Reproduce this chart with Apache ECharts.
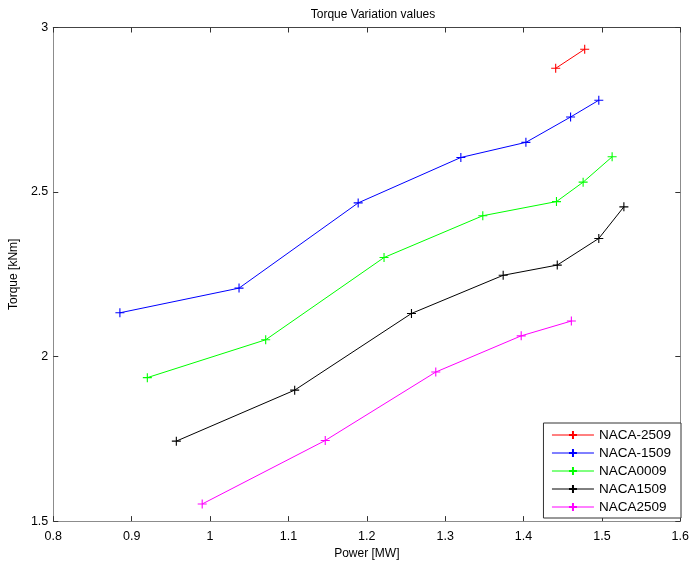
<!DOCTYPE html>
<html>
<head>
<meta charset="utf-8">
<script src="https://cdn.jsdelivr.net/npm/echarts@6/dist/echarts.min.js"></script>
<style>
  html, body { margin: 0; padding: 0; background: #fff; }
  #chart { width: 692px; height: 565px; }
</style>
</head>
<body>
<div id="chart"></div>
<script>
  // series names and colours
  var seriesNames = ['NACA-2509', 'NACA-1509', 'NACA0009', 'NACA1509', 'NACA2509'];
  var seriesColors = ['#ff0000', '#0000ff', '#00ff00', '#000000', '#ff00ff'];

  // power [MW] / torque [kNm]
  var powerN2509 = [1.441, 1.478];
  var torqueN2509 = [2.876, 2.934];

  var powerN1509 = [0.885, 1.037, 1.189, 1.320, 1.403, 1.460, 1.496];
  var torqueN1509 = [2.133, 2.208, 2.467, 2.605, 2.651, 2.728, 2.779];

  var power0009 = [0.920, 1.071, 1.222, 1.348, 1.442, 1.476, 1.513];
  var torque0009 = [1.936, 2.051, 2.301, 2.428, 2.471, 2.530, 2.607];

  var power1509 = [0.957, 1.108, 1.257, 1.374, 1.443, 1.496, 1.528];
  var torque1509 = [1.743, 1.898, 2.131, 2.247, 2.278, 2.359, 2.455];

  var power2509 = [0.990, 1.147, 1.288, 1.397, 1.461];
  var torque2509 = [1.552, 1.745, 1.953, 2.063, 2.108];

  var allPower = [powerN2509, powerN1509, power0009, power1509, power2509];
  var allTorque = [torqueN2509, torqueN1509, torque0009, torque1509, torque2509];

  var font = 'Liberation Sans, Arial, Helvetica, sans-serif';
  var plusSymbol = 'path://M0,5 L10,5 M5,0 L5,10';

  function pairs(xs, ys) {
    return xs.map(function (x, i) { return [x, ys[i]]; });
  }

  var series = seriesNames.map(function (name, i) {
    return {
      name: name,
      type: 'line',
      data: pairs(allPower[i], allTorque[i]),
      symbol: plusSymbol,
      symbolSize: 9,
      showAllSymbol: true,
      lineStyle: { color: seriesColors[i], width: 1 },
      itemStyle: { color: 'rgba(0,0,0,0)', borderColor: seriesColors[i], borderWidth: 1.1 },
      emphasis: { disabled: true },
      animation: false
    };
  });

  var chart = echarts.init(document.getElementById('chart'), null, { renderer: 'canvas' });

  var baseAxis = {
    axisLine: { show: true, onZero: false, lineStyle: { color: '#8c8c8c', width: 1 } },
    axisTick: { show: true, inside: true, length: 5, lineStyle: { color: '#333' } },
    splitLine: { show: false }
  };

  chart.setOption({
    backgroundColor: '#fff',
    animation: false,
    textStyle: { fontFamily: font },
    title: {
      text: 'Torque Variation values',
      left: 368,
      textAlign: 'center',
      top: 4,
      textStyle: { fontFamily: font, fontSize: 12, fontWeight: 'normal', color: '#000' }
    },
    grid: { left: 53, right: 9.5, top: 27.5, bottom: 42.5, containLabel: false },
    legend: {
      data: seriesNames,
      orient: 'vertical',
      right: 11,
      bottom: 47,
      itemWidth: 42,
      itemHeight: 10,
      itemGap: 4,
      padding: [5, 10, 4, 8],
      borderColor: '#333',
      borderWidth: 1,
      borderRadius: 0,
      backgroundColor: '#fff',
      lineStyle: { width: 1 },
      textStyle: { fontFamily: font, fontSize: 13.5, color: '#000', padding: [0, 0, 0, 0] }
    },
    xAxis: [
      Object.assign({}, baseAxis, {
        type: 'value',
        min: 0.8, max: 1.6, interval: 0.1,
        name: 'Power [MW]',
        nameLocation: 'middle',
        nameGap: 21,
        nameTextStyle: { fontFamily: font, fontSize: 12, color: '#000' },
        axisLabel: { color: '#000', fontSize: 12.5, margin: 9, fontFamily: font }
      }),
      Object.assign({}, baseAxis, {
        type: 'value', position: 'top',
        min: 0.8, max: 1.6, interval: 0.1,
        axisLine: { show: true, onZero: false, lineStyle: { color: '#444', width: 1 } },
        axisLabel: { show: false }
      })
    ],
    yAxis: [
      Object.assign({}, baseAxis, {
        type: 'value',
        min: 1.5, max: 3, interval: 0.5,
        name: 'Torque [kNm]',
        nameLocation: 'middle',
        nameGap: 30,
        nameTextStyle: { fontFamily: font, fontSize: 12, color: '#000' },
        axisLabel: { color: '#000', fontSize: 12.5, margin: 5, fontFamily: font }
      }),
      Object.assign({}, baseAxis, {
        type: 'value', position: 'right',
        min: 1.5, max: 3, interval: 0.5,
        axisLabel: { show: false }
      })
    ],
    series: series
  });
</script>
</body>
</html>
